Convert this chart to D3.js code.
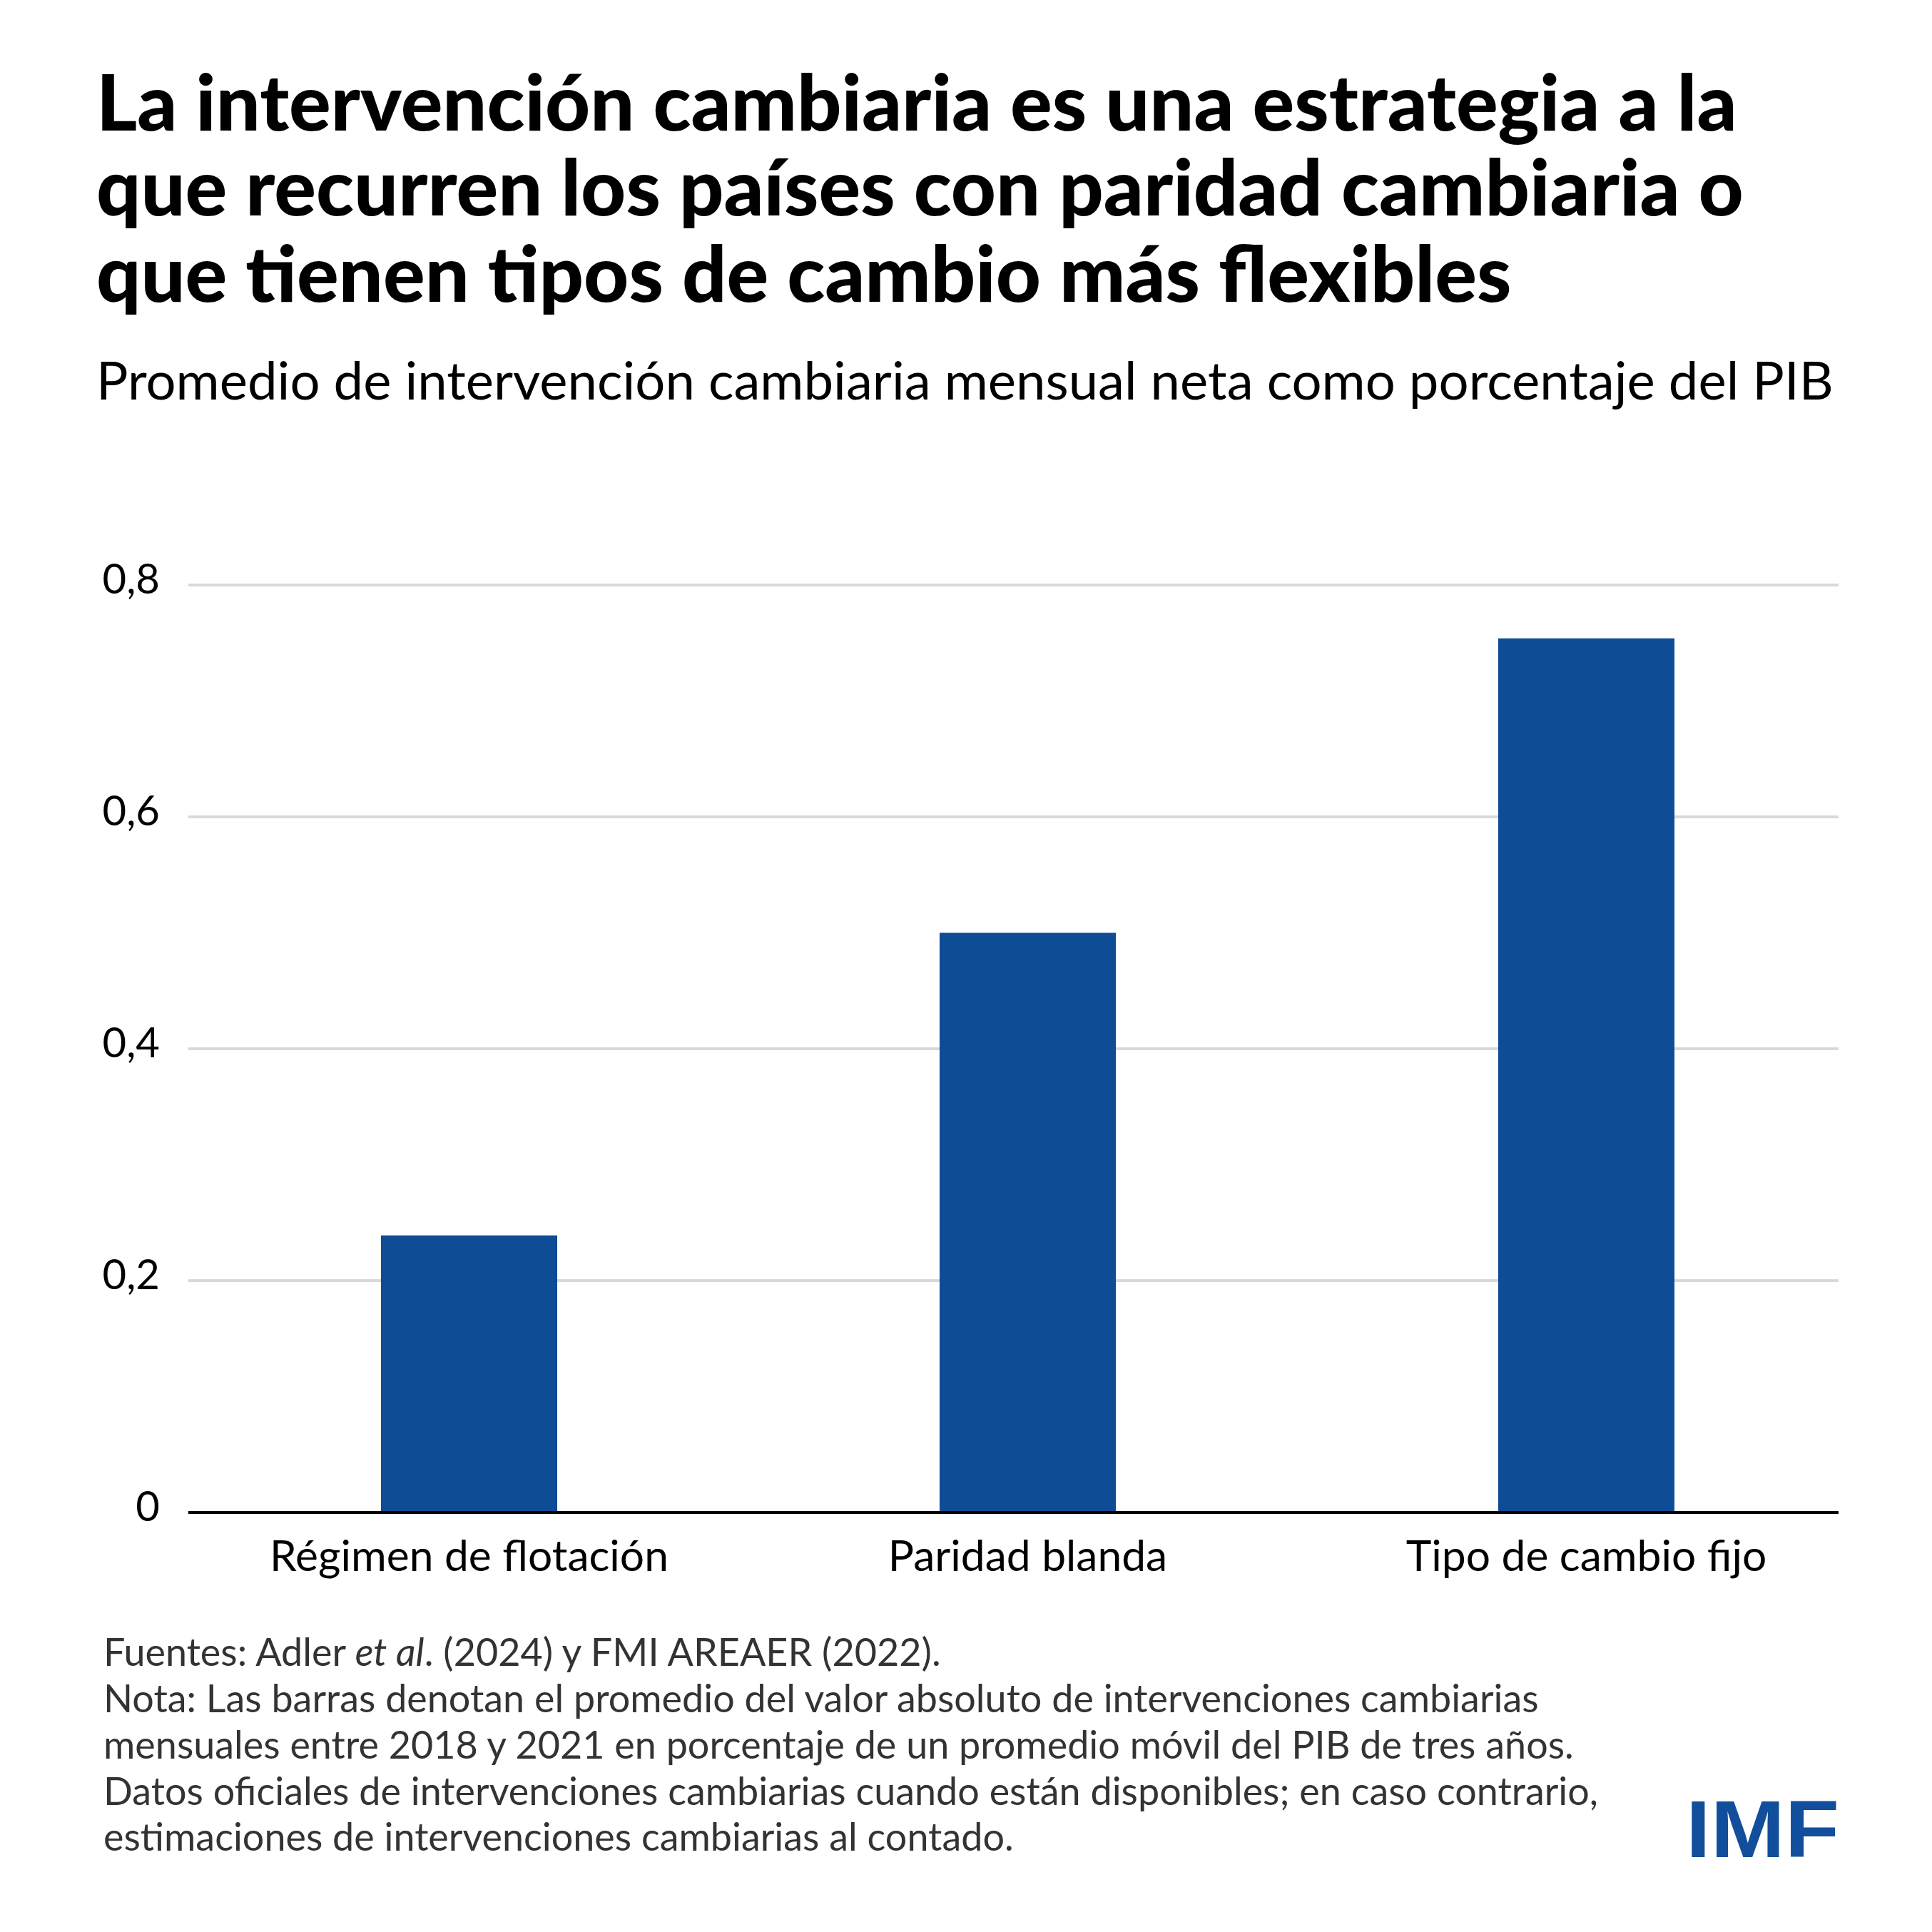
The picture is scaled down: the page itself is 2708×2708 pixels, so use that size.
<!DOCTYPE html>
<html>
<head>
<meta charset="utf-8">
<script src="https://cdn.jsdelivr.net/npm/d3@7"></script>
<style>
  html, body { margin: 0; padding: 0; background: #ffffff; }
  svg { display: block; }
</style>
</head>
<body>
<svg id="chart" width="2708" height="2708"></svg>
<script>
// ---- data ----
const categories = ["Régimen de flotación", "Paridad blanda", "Tipo de cambio fijo"];
const values = [0.239, 0.5, 0.754];
const yTicks = [0, 0.2, 0.4, 0.6, 0.8];
const yTickLabels = ["0", "0,2", "0,4", "0,6", "0,8"];
const titleLines = [
  "La intervención cambiaria es una estrategia a la",
  "que recurren los países con paridad cambiaria o",
  "que tienen tipos de cambio más flexibles"
];
const subtitle = "Promedio de intervención cambiaria mensual neta como porcentaje del PIB";
const noteLines = [
  [{t: "Fuentes: Adler "}, {t: "et al", i: true}, {t: ". (2024) y FMI AREAER (2022)."}],
  [{t: "Nota: Las barras denotan el promedio del valor absoluto de intervenciones cambiarias"}],
  [{t: "mensuales entre 2018 y 2021 en porcentaje de un promedio móvil del PIB de tres años."}],
  [{t: "Datos oficiales de intervenciones cambiarias cuando están disponibles; en caso contrario,"}],
  [{t: "estimaciones de intervenciones cambiarias al contado."}]
];
const logoText = "IMF";

// ---- layout ----
const FONT = "Lato, 'Noto Sans', 'DejaVu Sans', sans-serif";
const barColor = "#0e4c96";
const plotLeft = 264, plotRight = 2577;
const svg = d3.select("#chart");

function fitWidth(sel, target, base) {
  const w = sel.node().getComputedTextLength();
  const fs = base * target / w;
  sel.attr("font-size", fs);
  return fs;
}

// Title
const titleBaselines = [183, 302, 423];
const titleG = svg.append("g");
const tLines = titleLines.map((line, i) =>
  titleG.append("text")
    .attr("x", 135).attr("y", titleBaselines[i])
    .attr("font-family", FONT).attr("font-weight", 900)
    .attr("font-size", 100).attr("fill", "#000")
    .text(line));
{
  const w = tLines[1].node().getComputedTextLength();
  const fs = 100 * 2309 / w;
  tLines.forEach(t => t.attr("font-size", fs));
}

// Subtitle
const sub = svg.append("text")
  .attr("x", 135).attr("y", 560)
  .attr("font-family", FONT).attr("font-weight", 400)
  .attr("font-size", 75).attr("fill", "#000")
  .text(subtitle);
fitWidth(sub, 2435, 75);

// Scales
const y = d3.scaleLinear().domain([0, 0.8]).range([2120, 820]);
const x = d3.scaleBand().domain(categories)
  .range([266, 2615]).paddingInner(0.6845).paddingOuter(0.34225);

// Gridlines
svg.append("g").selectAll("line")
  .data(yTicks.filter(d => d > 0))
  .join("line")
  .attr("x1", plotLeft).attr("x2", plotRight)
  .attr("y1", d => y(d)).attr("y2", d => y(d))
  .attr("stroke", "#d9d9d9").attr("stroke-width", 4);

// Y tick labels
svg.append("g").selectAll("text")
  .data(yTicks)
  .join("text")
  .attr("x", 224)
  .attr("y", d => y(d) + 12)
  .attr("text-anchor", "end")
  .attr("font-family", FONT).attr("font-size", 58).attr("fill", "#000")
  .text((d, i) => yTickLabels[i]);

// Bars
svg.append("g").selectAll("rect")
  .data(values)
  .join("rect")
  .attr("x", (d, i) => x(categories[i]))
  .attr("width", x.bandwidth())
  .attr("y", d => y(d))
  .attr("height", d => y(0) - y(d))
  .attr("fill", barColor);

// X axis line
svg.append("line")
  .attr("x1", plotLeft).attr("x2", plotRight)
  .attr("y1", y(0)).attr("y2", y(0))
  .attr("stroke", "#000").attr("stroke-width", 4);

// X labels
const xl = svg.append("g").selectAll("text")
  .data(categories)
  .join("text")
  .attr("x", d => x(d) + x.bandwidth() / 2)
  .attr("y", 2202)
  .attr("text-anchor", "middle")
  .attr("font-family", FONT).attr("font-size", 56).attr("fill", "#000")
  .text(d => d);
{
  const w = xl.nodes()[0].getComputedTextLength();
  xl.attr("font-size", 56 * 559 / w);
}

// Notes
const noteBaselines = [2335, 2400, 2465, 2530, 2594];
const notes = noteLines.map((parts, i) => {
  const t = svg.append("text")
    .attr("x", 145).attr("y", noteBaselines[i])
    .attr("font-family", FONT).attr("font-size", 50).attr("fill", "#333333");
  parts.forEach(p => {
    t.append("tspan").attr("font-style", p.i ? "italic" : "normal").text(p.t);
  });
  return t;
});
{
  const w = notes[1].node().getComputedTextLength();
  const fs = 50 * 2012 / w;
  notes.forEach(t => t.attr("font-size", fs));
}

// Logo
svg.append("text")
  .attr("x", 2363).attr("y", 2603)
  .attr("font-family", "'Liberation Sans', Arial, sans-serif")
  .attr("font-weight", 700).attr("font-size", 114)
  .attr("fill", "#114e9b")
  .attr("textLength", 215).attr("lengthAdjust", "spacingAndGlyphs")
  .text(logoText);
</script>
</body>
</html>
